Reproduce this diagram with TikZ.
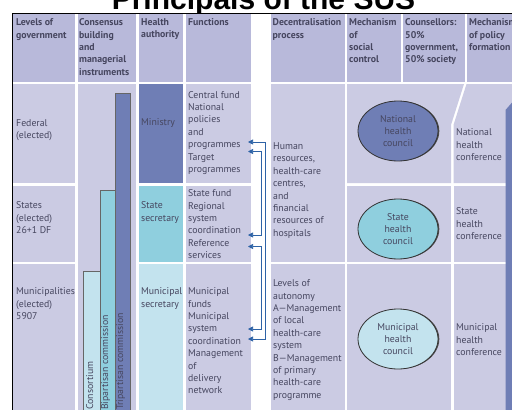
\documentclass[tikz,border=0pt]{standalone}
\usepackage{fontspec}
\setmainfont{PT Sans}
\newfontfamily\titlefont{Liberation Sans}
\usetikzlibrary{arrows.meta,shapes.geometric}
\definecolor{ink}{HTML}{46465F}
\definecolor{lilac}{HTML}{B8B9DA}
\definecolor{lightlilac}{HTML}{CBCBE3}
\definecolor{slate}{HTML}{6F7EB5}
\definecolor{susteal}{HTML}{8FCFDE}
\definecolor{paleteal}{HTML}{C3E3EE}
\definecolor{linkblue}{HTML}{2E63A6}

\begin{document}
\begin{tikzpicture}[
  x=1pt, y=-1pt,
  txt/.style={anchor=north west, inner sep=0pt, align=left, text=ink,
    font=\fontsize{9.8}{12.4}\selectfont},
  headtxt/.style={txt, font=\bfseries\fontsize{9.8}{12.4}\selectfont},
  council/.style={ellipse, draw=black!80, line width=0.8pt, inner sep=0pt,
    minimum width=80pt, minimum height=60pt, align=center, text=ink,
    font=\fontsize{9.8}{12.4}\selectfont,
    preaction={fill=black!70, transform canvas={xshift=1.3pt}}},
  bar/.style={draw=black!60, line width=0.6pt},
  barlabel/.style={rotate=90, anchor=base west, inner sep=0pt, text=ink,
    font=\fontsize{9.8}{12}\selectfont},
  link/.style={{Triangle[length=5pt,width=5pt]}-{Triangle[length=5pt,width=5pt]},
    draw=linkblue, line width=0.7pt}
]
\useasboundingbox (0,0) rectangle (512,410);
\clip (0,0) rectangle (512,410);

\node[anchor=base, inner sep=0pt, font=\titlefont\bfseries\fontsize{30}{30}\selectfont]
  (title) at (263.5,9.5) {Principals of the SUS};

% table frame
\fill[white] (12,13) rectangle (512,410);
\draw[line width=1pt] (12,411) -- (12,13) -- (513,13);

% header cells
\foreach \xa/\xb in {13/75, 77.5/136, 139/183, 186/251, 271/345, 347/401, 403/465, 467/512}
  \fill[lilac] (\xa,14) rectangle (\xb,82);

% body cells
\foreach \xa/\xb in {13/75, 186/251}
  \foreach \ya/\yb in {84/183, 185.5/262, 264/410}
    \fill[lightlilac] (\xa,\ya) rectangle (\xb,\yb);
\fill[lightlilac] (77.5,84) rectangle (136,410);
\fill[slate] (139,84) rectangle (183,183);
\fill[susteal] (139,185.5) rectangle (183,262);
\fill[paleteal] (139,264) rectangle (183,410);
\fill[lightlilac] (271,84) rectangle (345,262);
\fill[lightlilac] (271,264) rectangle (345,410);
\fill[lightlilac] (347,84) -- (464,84) -- (451,125) -- (451,183) -- (347,183) -- cycle;
\fill[lightlilac] (466.5,84) -- (512,84) -- (512,183) -- (453.5,183) -- (453.5,125) -- cycle;
\foreach \ya/\yb in {185.5/262, 264/410} {
  \fill[lightlilac] (347,\ya) rectangle (451,\yb);
  \fill[lightlilac] (453.5,\ya) rectangle (512,\yb);
}
\fill[slate] (505.5,110) -- (516,98) -- (526,110) -- (526,410) -- (505.5,410) -- cycle;

% consensus bars
\fill[paleteal, bar] (83,271) rectangle (100,412);
\fill[susteal, bar] (100,190) rectangle (115,412);
\fill[slate, bar] (115,93) rectangle (130,412);
\node[barlabel] (consortium) at (93,410) {Consortium};
\node[barlabel] (bipartisan) at (108,410) {Bipartisan commission};
\node[barlabel] (tripartisan) at (123,410) {Tripartisan commission};

% header texts
\node[headtxt] (hlevels) at (16,18.5) {Levels of\\government};
\node[headtxt] (hconsensus) at (79,18.5) {Consensus\\building\\and\\managerial\\instruments};
\node[headtxt] (hauthority) at (141,18.5) {Health\\authority};
\node[headtxt] (hfunctions) at (188,18.5) {Functions};
\node[headtxt] (hdecentral) at (272.5,18.5) {Decentralisation\\process};
\node[headtxt] (hsocial) at (349,18.5) {Mechanism\\of\\social\\control};
\node[headtxt] (hcounsel) at (405,18.5) {Counsellors:\\50\%\\government,\\50\% society};
\node[headtxt] (hpolicy) at (469,18.5) {Mechanism\\of policy\\formation};

% levels of government
\node[txt] (federal) at (16,119) {Federal\\(elected)};
\node[txt] (states) at (16,201.5) {States\\(elected)\\26+1 DF};
\node[txt] (municipalities) at (16,287.5) {Municipalities\\(elected)\\5907};

% health authority
\node[txt] (ministry) at (141,118.5) {Ministry};
\node[txt] (statesec) at (141,201.5) {State\\secretary};
\node[txt] (munisec) at (141,287.5) {Municipal\\secretary};

% functions
\node[txt] (fedfun) at (188,91) {Central fund\\National\\policies\\and\\programmes\\Target\\programmes};
\node[txt] (stafun) at (188,189.5) {State fund\\Regional\\system\\coordination\\Reference\\services};
\node[txt] (munfun) at (188,287.5) {Municipal\\funds\\Municipal\\system\\coordination\\Management\\of\\delivery\\network};

% decentralisation
\node[txt] (resources) at (273,142.5) {Human\\resources,\\health-care\\centres,\\and\\financial\\resources of\\hospitals};
\node[txt] (autonomy) at (273,279.5) {Levels of\\autonomy\\A---Management\\of local\\health-care\\system\\B---Management\\of primary\\health-care\\programme};

% councils and conferences
\node[council, fill=slate] (natcouncil) at (398,131) {National\\health\\council};
\node[council, fill=susteal] (stacouncil) at (398,229) {State\\health\\council};
\node[council, fill=paleteal] (muncouncil) at (398,339) {Municipal\\health\\council};
\node[txt] (natconf) at (456,128.5) {National\\health\\conference};
\node[txt] (staconf) at (456,207.5) {State\\health\\conference};
\node[txt] (munconf) at (456,323.5) {Municipal\\health\\conference};

% links between the levels
\coordinate (fedA) at (248,142);
\coordinate (fedB) at (248,151.5);
\coordinate (staB) at (248,235);
\coordinate (staC) at (248,246.5);
\coordinate (munC) at (248,329);
\coordinate (munA) at (248,339);
\coordinate (outer) at (265,0);
\coordinate (inner) at (261,0);
\draw[link] (fedA) -- (fedA -| outer) |- (munA);
\draw[link] (fedB) -- (fedB -| inner) |- (staB);
\draw[link] (staC) -- (staC -| inner) |- (munC);
\end{tikzpicture}
\end{document}
